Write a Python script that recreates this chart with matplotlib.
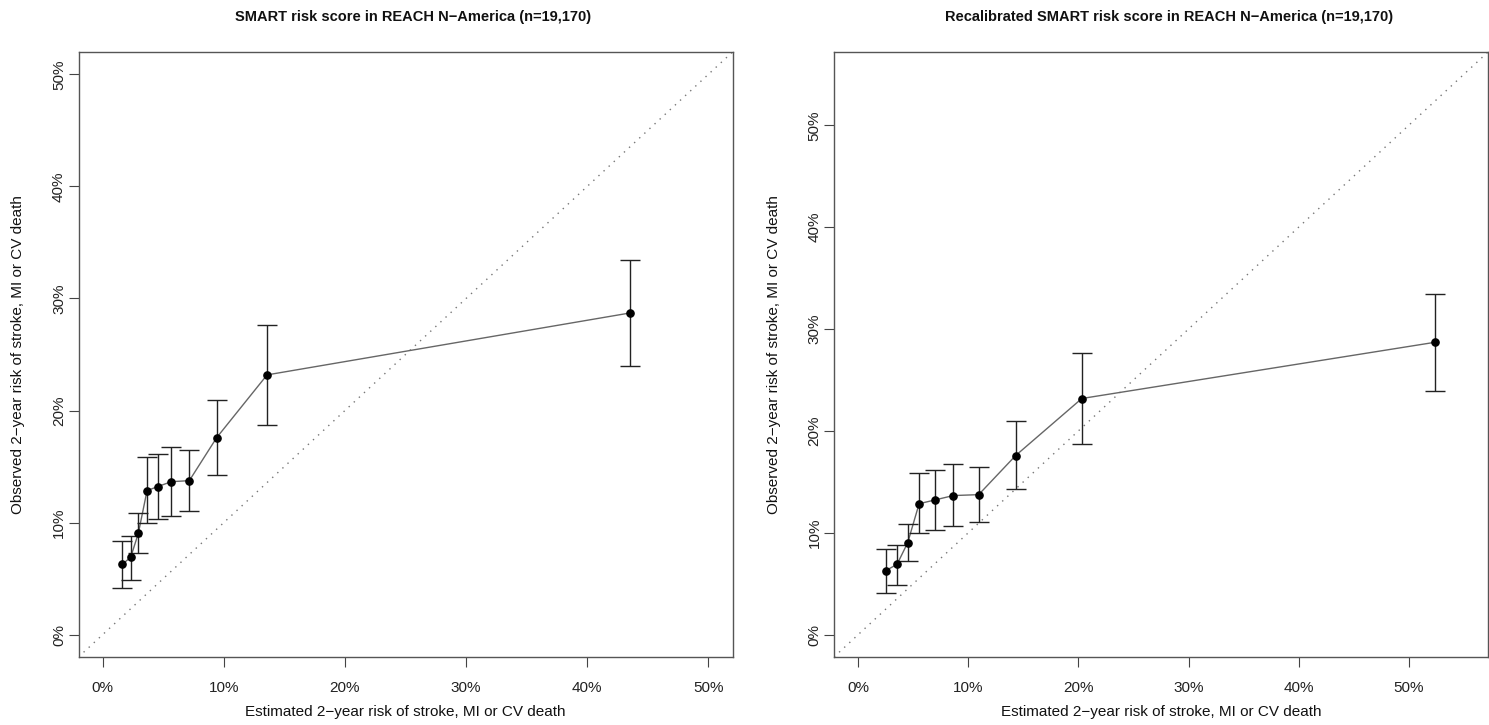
import matplotlib
matplotlib.use("Agg")
import matplotlib.pyplot as plt

plt.rcParams['font.family'] = ['Liberation Sans', 'DejaVu Sans']

# Data (percent)
est_left = [1.62, 2.31, 2.94, 3.66, 4.54, 5.67, 7.15, 9.41, 13.57, 43.5]
est_right = [2.50, 3.53, 4.50, 5.53, 6.93, 8.63, 10.94, 14.30, 20.31, 52.39]
observed = [6.28, 6.90, 9.04, 12.85, 13.21, 13.65, 13.74, 17.58, 23.18, 28.7]
ci_low = [4.13, 4.88, 7.26, 9.94, 10.29, 10.62, 11.06, 14.28, 18.69, 23.95]
ci_high = [8.38, 8.83, 10.88, 15.83, 16.13, 16.72, 16.48, 20.95, 27.64, 33.45]
tick_vals = [0, 10, 20, 30, 40, 50]
tick_labels = ["0%", "10%", "20%", "30%", "40%", "50%"]

titles = ["SMART risk score in REACH N\u2212America (n=19,170)",
          "Recalibrated SMART risk score in REACH N\u2212America (n=19,170)"]
xlabel = "Estimated 2\u2212year risk of stroke, MI or CV death"
ylabel = "Observed 2\u2212year risk of stroke, MI or CV death"

W, H = 1489, 725
fig = plt.figure(figsize=(W / 100, H / 100), dpi=100)

panels = [
    (78.5, est_left, (-2.0, 52.0)),
    (834.0, est_right, (-2.2, 57.2)),
]
box_w = 654.0
box_top, box_bot = 52.0, 657.0

for i, (x0, est, lim) in enumerate(panels):
    ax = fig.add_axes([x0 / W, 1 - box_bot / H, box_w / W, (box_bot - box_top) / H])
    ax.set_xlim(*lim)
    ax.set_ylim(*lim)
    # diagonal reference
    ax.plot(lim, lim, linestyle=(0, (1, 4)), color="#777777", linewidth=1.0, zorder=1)
    # connecting line
    ax.plot(est, observed, color="#666666", linewidth=1.0, zorder=2)
    # error bars
    yerr = [[o - l for o, l in zip(observed, ci_low)],
            [h - o for o, h in zip(observed, ci_high)]]
    ax.errorbar(est, observed, yerr=yerr, fmt="none", ecolor="#222222",
                elinewidth=1.0, capsize=7.5, capthick=1.0, zorder=3)
    ax.plot(est, observed, "o", color="black", markersize=5.2, zorder=4)

    ax.set_xticks(tick_vals)
    ax.set_xticklabels(tick_labels)
    ax.set_yticks(tick_vals)
    ax.set_yticklabels(tick_labels, rotation=90, va="center")
    ax.tick_params(axis="both", direction="out", length=7, width=0.8,
                   color="#444444", labelsize=11, labelcolor="#222222")
    ax.tick_params(axis="x", pad=10)
    ax.tick_params(axis="y", pad=2)
    for sp in ax.spines.values():
        sp.set_color("#555555")
        sp.set_linewidth(1.0)

    cx = (x0 + box_w / 2) / W
    fig.text(cx + 8 / W, 1 - 17 / H, titles[i], ha="center", va="center",
             fontsize=10.5, fontweight="bold", color="#111111")
    fig.text(cx, 1 - 712 / H, xlabel, ha="center", va="center",
             fontsize=11, color="#111111")
    fig.text((x0 - 60) / W, 1 - (box_top + box_bot) / 2 / H, ylabel,
             ha="center", va="center", rotation=90, fontsize=11, color="#111111")

fig.savefig("out.png", dpi=100, facecolor="white")
